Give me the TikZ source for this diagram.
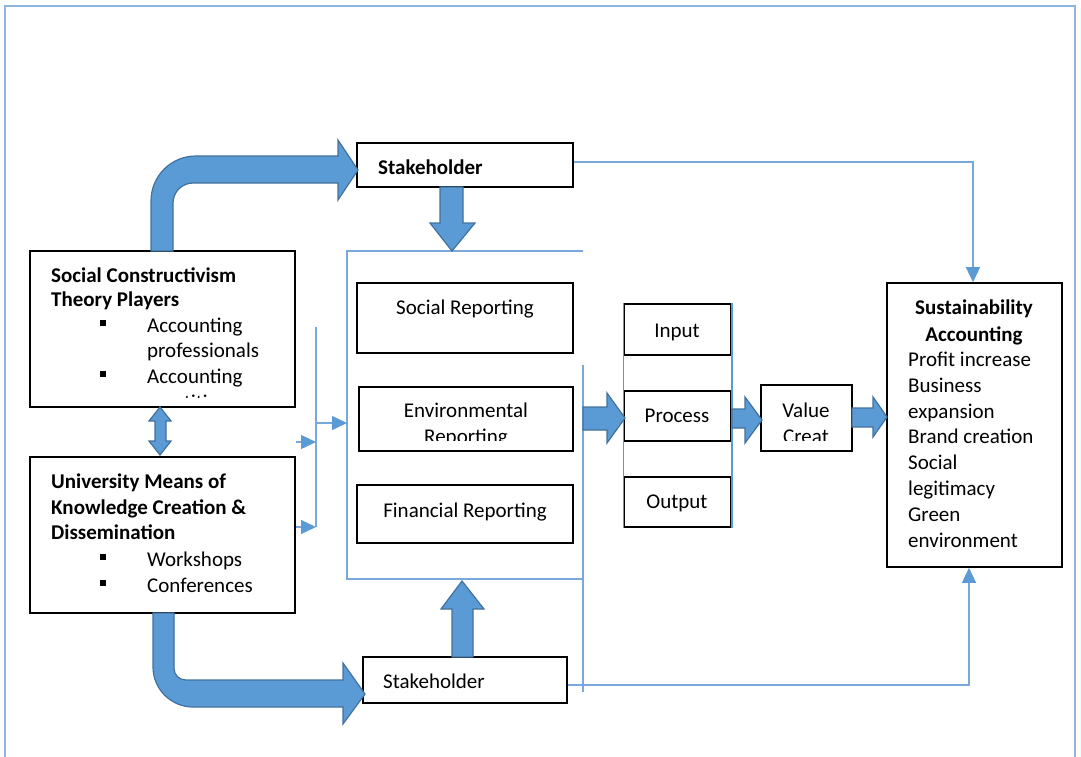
\documentclass[tikz,border=0pt]{standalone}
\usepackage{fontspec}
\setmainfont{Carlito}
\usetikzlibrary{arrows.meta}
\definecolor{blk}{RGB}{91,155,213}
\definecolor{blkedge}{RGB}{65,113,156}
\definecolor{thinc}{RGB}{120,168,220}
\definecolor{framec}{RGB}{141,180,226}
\begin{document}
\begin{tikzpicture}[x=1pt,y=-1pt,
  box/.style={draw=black, line width=1.6pt, inner sep=0pt, fill=white},
  fat/.style={fill=blk, draw=blkedge, line width=1.2pt, line join=miter},
  conn/.style={draw=thinc, line width=1.4pt},
  tipa/.style={-{Triangle[length=15pt,width=14pt,color=blk]}},
  txt/.style={inner sep=0pt, font=\fontsize{21}{26}\selectfont},
  btxt/.style={txt, font=\fontsize{21}{26}\selectfont\bfseries},
  lt/.style={anchor=base west},
  ct/.style={anchor=base}
]
\useasboundingbox (0,0) rectangle (1081,756);
% outer frame
\draw[draw=framec, line width=2pt] (5,760) -- (5,6) -- (1075,6) -- (1075,760);

% boxes
\node[box, minimum width=265pt, minimum height=156pt] (sc) at (162.5,329) {};
\node[box, minimum width=265pt, minimum height=156pt] (um) at (162.5,535) {};
\node[box, minimum width=216pt, minimum height=44pt] (sh1) at (465,165) {};
\node[box, minimum width=216pt, minimum height=70pt] (sr) at (465,318) {};
\node[box, minimum width=214pt, minimum height=64pt] (er) at (466,419) {};
\node[box, minimum width=216pt, minimum height=58pt] (fr) at (465,514) {};
\node[box, minimum width=204pt, minimum height=46pt] (sh2) at (465,680) {};
\node[box, minimum width=107pt, minimum height=51pt] (inp) at (677.5,329.5) {};
\node[box, minimum width=107pt, minimum height=50pt] (pro) at (677.5,416) {};
\node[box, minimum width=107pt, minimum height=50pt] (outp) at (677.5,502) {};
\node[box, minimum width=91pt, minimum height=66pt] (val) at (806.5,418) {};
\node[box, minimum width=175pt, minimum height=284pt] (sa) at (974.5,425) {};

% side lines of input/process/output column
\draw[conn, draw=blk] (inp.north west) -- (outp.south west);
\draw[conn, draw=blk] (inp.north east) -- (outp.south east);

% reporting container
\coordinate (rNE) at (583,251);
\coordinate (rNW) at (347,251);
\coordinate (rSW) at (347,579);
\coordinate (rSE) at (583,579);
\draw[conn] (rNE) -- (rNW) -- (rSW) -- (rSE);
\coordinate (rT) at (583,365);
\coordinate (rB) at (583,692);
\draw[conn] (rT) -- (rB);

% left hub
\coordinate (hubT) at (316,327);
\coordinate (hubB) at (316,527);
\coordinate (hubM) at (316,423);
\coordinate (hubA) at (316,442);
\draw[conn] (hubT) -- (hubB);
\draw[conn,tipa] (hubM) -- (hubM -| rNW);
\draw[conn,tipa] (sc.east |- hubA) -- (hubA);
\draw[conn,tipa] (um.east |- hubB) -- (hubB);

% right feedback connectors
\draw[conn,tipa] ([yshift=3pt]sh1.east) -| ([xshift=-1.5pt]sa.north);
\draw[conn,tipa] ([yshift=-5pt]sh2.east) -| ([xshift=-5.5pt]sa.south);

% fat arrows
\draw[fat] (151,251) -- (151,201) .. controls (151,176) and (171,156) .. (196,156) -- (338,156) -- (338,140) -- (358,170) -- (338,200) -- (338,183) -- (193,183) .. controls (182,183) and (173,192) .. (173,203) -- (173,251) -- cycle;
\draw[fat] (153,613) -- (153,667) .. controls (153,689) and (171,707) .. (193,707) -- (343,707) -- (343,724) -- (365,694) -- (343,663) -- (343,680) -- (186,680) .. controls (179,680) and (174,675) .. (174,668) -- (174,613) -- cycle;
\draw[fat] (160,407) -- (171,421) -- (166,421) -- (166,441) -- (171,441) -- (160,455) -- (149,441) -- (155,441) -- (155,421) -- (149,421) -- cycle;
\draw[fat] (440,187) -- (463,187) -- (463,223) -- (475,223) -- (452,251) -- (430,223) -- (440,223) -- cycle;
\draw[fat] (452,657) -- (452,609) -- (441,609) -- (462,581) -- (484,609) -- (473,609) -- (473,657) -- cycle;
\draw[fat] (583,407) -- (607,407) -- (607,393) -- (625,418) -- (607,443) -- (607,430) -- (583,430) -- cycle;
\draw[fat] (732,409) -- (745,409) -- (745,397) -- (762,420) -- (745,443) -- (745,428) -- (732,428) -- cycle;
\draw[fat] (852,408) -- (873,408) -- (873,397) -- (887,417) -- (873,437) -- (873,427) -- (852,427) -- cycle;

% texts: social constructivism
\begin{scope}
\clip (sc.north west) rectangle ([yshift=10pt]sc.south east);
\node[btxt,lt] (sc1) at (51,282) {Social Constructivism};
\node[btxt,lt] (sc2) at (51,306) {Theory Players};
\node[txt,lt] (sc3) at (147,332) {Accounting};
\node[txt,lt] (sc4) at (147,357) {professionals};
\node[txt,lt] (sc5) at (147,383) {Accounting};
\node[txt,lt] (sc6) at (147,409) {practitioners};
\end{scope}
\fill (100,320) rectangle (106,326);
\fill (100,371) rectangle (106,377);

% university
\node[btxt,lt] (um1) at (51,488) {University Means of};
\node[btxt,lt] (um2) at (51,514) {Knowledge Creation \&};
\node[btxt,lt] (um3) at (51,539) {Dissemination};
\node[txt,lt] (um4) at (147,566) {Workshops};
\node[txt,lt] (um5) at (147,592) {Conferences};
\fill (100,554) rectangle (106,560);
\fill (100,580) rectangle (106,586);

% stakeholders
\node[btxt,lt] (sh1t) at (378,174) {Stakeholder};
\node[txt,lt] (sh2t) at (383,688) {Stakeholder};

% reporting
\node[txt,ct] (srt) at (465,314) {Social Reporting};
\begin{scope}
\clip (er.north west) rectangle ([yshift=11pt]er.south east);
\node[txt,ct] (ert1) at (466,417) {Environmental};
\node[txt,ct] (ert2) at (466,443) {Reporting};
\end{scope}
\node[txt,ct] (frt) at (465,517) {Financial Reporting};

% input process output
\node[txt,ct] (inpt) at (677,337) {Input};
\node[txt,ct] (prot) at (677,422) {Process};
\node[txt,ct] (outpt) at (677,508) {Output};

% value creation
\begin{scope}
\clip (val.north west) rectangle ([yshift=11pt]val.south east);
\node[txt,ct] (valt1) at (806,417) {Value};
\node[txt,ct] (valt2) at (806,443) {Creat};
\end{scope}

% sustainability accounting
\node[btxt,ct] (sa1) at (974,314) {Sustainability};
\node[btxt,ct] (sa2) at (974,341) {Accounting};
\node[txt,lt] (sa3) at (908,366) {Profit increase};
\node[txt,lt] (sa4) at (908,392) {Business};
\node[txt,lt] (sa5) at (908,418) {expansion};
\node[txt,lt] (sa6) at (908,443) {Brand creation};
\node[txt,lt] (sa7) at (908,469) {Social};
\node[txt,lt] (sa8) at (908,495) {legitimacy};
\node[txt,lt] (sa9) at (908,521) {Green};
\node[txt,lt] (sa10) at (908,547) {environment};
\end{tikzpicture}
\end{document}
